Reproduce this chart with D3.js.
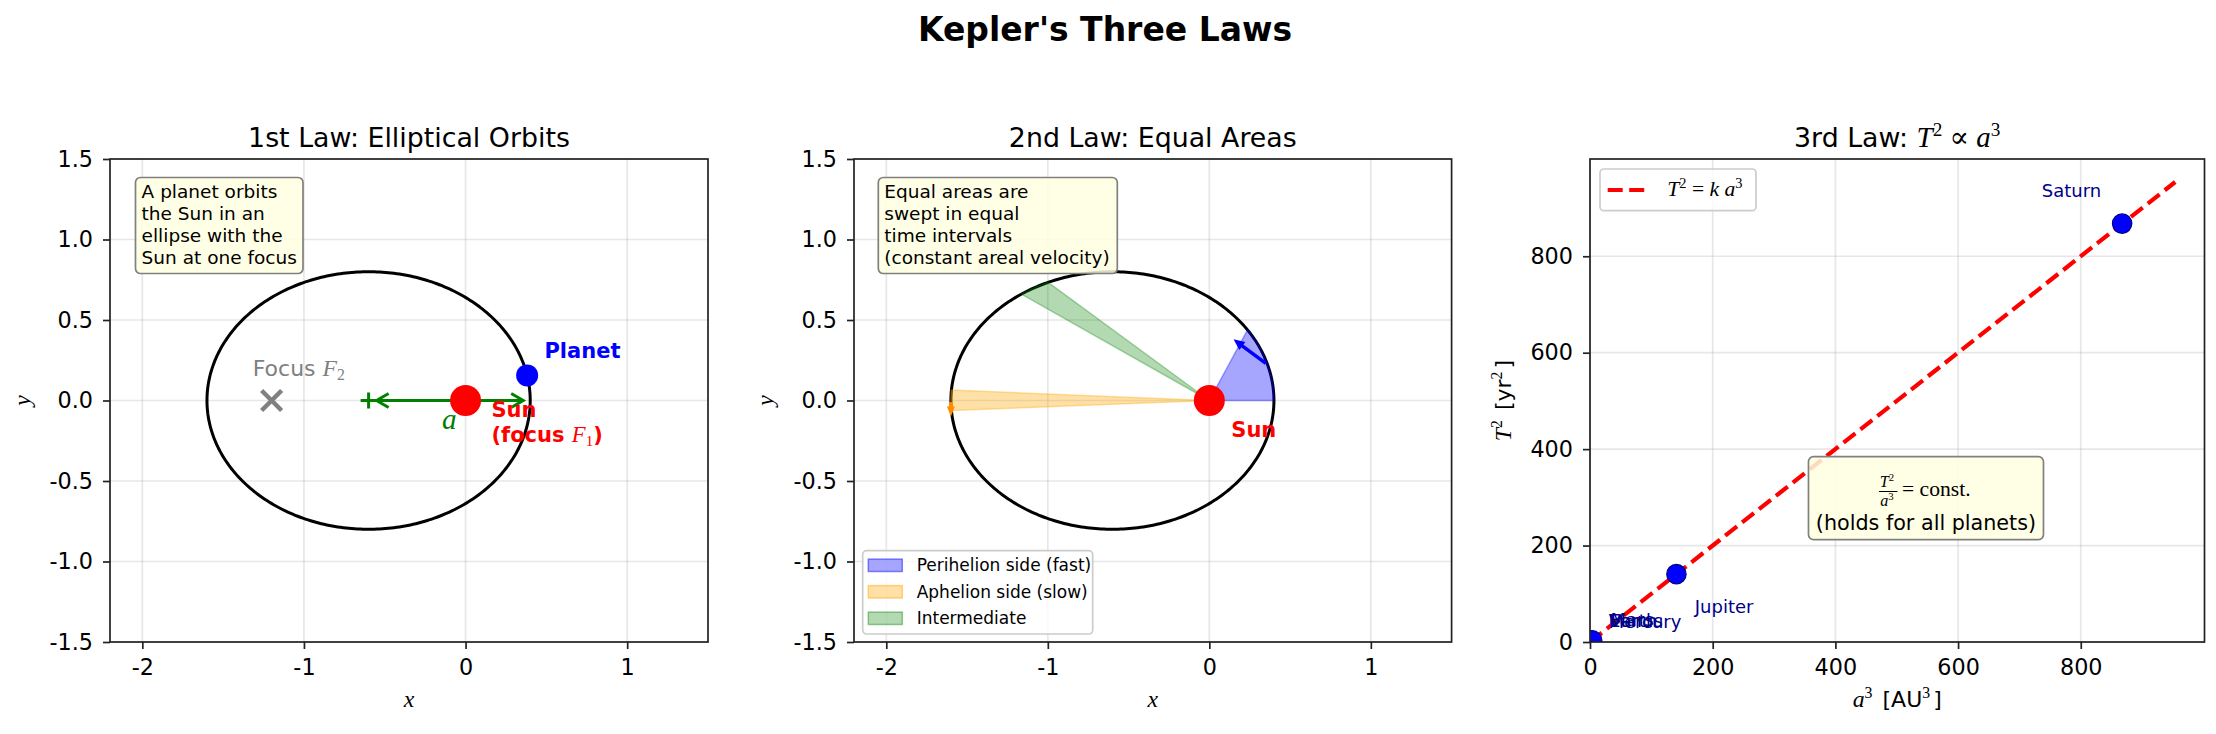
<!DOCTYPE html>
<html>
<head>
<meta charset="utf-8">
<script src="https://cdn.jsdelivr.net/npm/d3@7"></script>
<style>body{margin:0;background:#fff}</style>
</head>
<body>
<svg id="fig" width="2216" height="734"></svg>
<script>
// ---------- data ----------
const xTicks12 = [-2, -1, 0, 1];
const yTicks12 = [-1.5, -1.0, -0.5, 0.0, 0.5, 1.0, 1.5];
const xTicks3 = [0, 200, 400, 600, 800];
const yTicks3 = [0, 200, 400, 600, 800];

// orbit used in panels 1 and 2
const semiMajor = 1.0;
const ecc = 0.6;
const orbitCenter = [-0.6, 0];
const sunXY = [0, 0];
const focus2XY = [-1.2, 0];
const planetXY = [0.381, 0.156];

// swept sectors (eccentric anomaly, rad)
const sectorNames = ["Perihelion side (fast)", "Aphelion side (slow)", "Intermediate"];
const sectorE0 = [0.0, 3.06, 1.98];
const sectorE1 = [0.58, 3.22, 2.17];

// velocity arrows (perihelion, aphelion)
const velFrom = [[0.35, 0.23], [-1.6, -0.01]];
const velTo = [[0.15, 0.38], [-1.6, -0.10]];

// planets for the 3rd law
const planetNames = ["Mercury", "Venus", "Earth", "Mars", "Jupiter", "Saturn"];
const planetA = [0.387, 0.723, 1.000, 1.524, 5.203, 9.537];   // AU
const planetT = [0.241, 0.615, 1.000, 1.881, 11.862, 29.457]; // yr
const fitA3 = [0, 954];
const fitT2 = [0, 954];

// ---------- styles / layout ----------
const SANS = "'DejaVu Sans', sans-serif";
const SERIF = "'Liberation Serif', 'DejaVu Serif', serif";
const MATH_SCALE = 1.08;
const sectorColors = ["#0000ff", "#ffa500", "#008000"];
const sectorAlpha = [0.35, 0.35, 0.3];
const velColors = ["#0000ff", "#ff8c00"];
const labelOffset = { Mercury: [30, 30], Venus: [30, 30], Earth: [30, 30], Mars: [30, 30], Jupiter: [30, -80], Saturn: [-131, 55] };

const svg = d3.select("#fig");
const box1 = {l: 110, r: 708, t: 159, b: 642};
const box2 = {l: 854, r: 1451.6, t: 159, b: 642};
const box3 = {l: 1590, r: 2204.5, t: 159, b: 642};

function rich(sel, x, y, parts, o) {
  const size = o.size;
  const t = sel.append("text").attr("x", x).attr("y", y)
    .attr("font-size", size).attr("fill", o.fill || "#000")
    .attr("text-anchor", o.anchor || "start")
    .attr("font-family", SANS)
    .attr("font-weight", o.weight || "normal");
  if (o.transform) t.attr("transform", o.transform);
  let cur = 0, prevSup = false;
  parts.forEach(p => {
    const s = typeof p === "string" ? {t: p} : p;
    const off = s.sup ? -0.4 * size : s.sub ? 0.2 * size : 0;
    const ts = t.append("tspan").attr("dy", off - cur).text(s.t);
    if (prevSup && o.gap) ts.attr("dx", o.gap);
    cur = off;
    prevSup = !!(s.sup || s.sub);
    if (s.m) ts.attr("font-family", SERIF).attr("font-style", s.up ? "normal" : "italic")
      .attr("font-weight", "normal").attr("font-size", size * MATH_SCALE);
    if (s.sup || s.sub) ts.attr("font-size", size * 0.72).attr("font-family", SERIF).attr("font-style", "normal").attr("font-weight", "normal");
  });
  return t;
}

function axes(box, xDom, yDom, xT, yT, fx, fy, id) {
  const x = d3.scaleLinear().domain(xDom).range([box.l, box.r]);
  const y = d3.scaleLinear().domain(yDom).range([box.b, box.t]);
  const g = svg.append("g");
  g.append("defs").append("clipPath").attr("id", id).append("rect")
    .attr("x", box.l).attr("y", box.t).attr("width", box.r - box.l).attr("height", box.b - box.t);
  const grid = g.append("g").attr("stroke", "#b0b0b0").attr("stroke-opacity", 0.3).attr("stroke-width", 1.7);
  grid.selectAll(".gx").data(xT).join("line")
    .attr("x1", d => x(d)).attr("x2", d => x(d)).attr("y1", box.t).attr("y2", box.b);
  grid.selectAll(".gy").data(yT).join("line")
    .attr("y1", d => y(d)).attr("y2", d => y(d)).attr("x1", box.l).attr("x2", box.r);
  const ax = g.append("g").attr("transform", `translate(0,${box.b})`)
    .call(d3.axisBottom(x).tickValues(xT).tickFormat(fx).tickSize(7).tickPadding(10));
  const ay = g.append("g").attr("transform", `translate(${box.l},0)`)
    .call(d3.axisLeft(y).tickValues(yT).tickFormat(fy).tickSize(7).tickPadding(10));
  [ax, ay].forEach(a => {
    a.select(".domain").remove();
    a.selectAll("line").attr("stroke", "#222").attr("stroke-width", 1.7);
    a.selectAll("text").attr("font-family", SANS).attr("font-size", 22.3).attr("fill", "#000");
  });
  const plot = g.append("g").attr("clip-path", `url(#${id})`);
  const top = g.append("g");
  const frame = () => g.append("rect").attr("x", box.l).attr("y", box.t)
    .attr("width", box.r - box.l).attr("height", box.b - box.t)
    .attr("fill", "none").attr("stroke", "#222").attr("stroke-width", 1.7);
  return {x, y, g, plot, top, frame};
}

function arrow(g, x0, y0, x1, y1, color, w, headL, headW) {
  const dx = x1 - x0, dy = y1 - y0, L = Math.hypot(dx, dy), ux = dx / L, uy = dy / L;
  const bx = x1 - ux * headL, by = y1 - uy * headL;
  g.append("line").attr("x1", x0).attr("y1", y0).attr("x2", bx + ux * 1).attr("y2", by + uy * 1)
    .attr("stroke", color).attr("stroke-width", w);
  g.append("path")
    .attr("d", `M${x1},${y1}L${bx - uy * headW / 2},${by + ux * headW / 2}L${bx + uy * headW / 2},${by - ux * headW / 2}Z`)
    .attr("fill", color);
}

function noteBox(g, x, y, w, h, lines, tx) {
  g.append("rect").attr("x", x).attr("y", y).attr("width", w).attr("height", h).attr("rx", 5)
    .attr("fill", "#ffffe0").attr("fill-opacity", 0.85).attr("stroke", "#808080").attr("stroke-width", 1.7);
  lines.forEach((s, i) => {
    g.append("text").attr("x", tx).attr("y", y + 20.5 + i * 22)
      .attr("font-family", SANS).attr("font-size", 18.5).attr("fill", "#000").text(s);
  });
}

const bMinor = semiMajor * Math.sqrt(1 - ecc * ecc);
function orbitPt(E) {
  return [orbitCenter[0] + semiMajor * Math.cos(E), orbitCenter[1] + bMinor * Math.sin(E)];
}
const orbitPts = d3.range(0, 361).map(d => orbitPt(d * Math.PI / 180));

function panelTitle(box, parts) {
  rich(svg, (box.l + box.r) / 2, 146.5, parts, {size: 26.8, anchor: "middle"});
}

// ---------- suptitle ----------
svg.append("text").attr("x", 1105).attr("y", 41).attr("text-anchor", "middle")
  .attr("font-family", SANS).attr("font-weight", "bold").attr("font-size", 33)
  .text("Kepler's Three Laws");

// ---------- panel 1 ----------
const fmtX = d => String(d);
const fmtY = d => d.toFixed(1);
const p1 = axes(box1, [-2.2, 1.5], [-1.5, 1.5], xTicks12, yTicks12, fmtX, fmtY, "clip1");
{
  const {x, y, plot} = p1;
  const line = d3.line().x(d => x(d[0])).y(d => y(d[1]));
  plot.append("path").attr("d", line(orbitPts)).attr("fill", "none").attr("stroke", "#000").attr("stroke-width", 3);
  // focus F2
  const fx = x(focus2XY[0]), fy = y(focus2XY[1]);
  plot.append("path").attr("d", `M${fx - 10},${fy - 10}L${fx + 10},${fy + 10}M${fx - 10},${fy + 10}L${fx + 10},${fy - 10}`)
    .attr("stroke", "#808080").attr("stroke-width", 4.5);
  rich(plot, x(-1.317), y(0.155), ["Focus ", {t: "F", m: true}, {t: "2", sub: true}], {size: 22, fill: "#808080"});
  // semi-major axis arrow
  const cx = x(orbitCenter[0]), ax1 = x(orbitCenter[0] + semiMajor), cy = y(0);
  const l0 = cx + 8, l1 = ax1 - 7;
  plot.append("line").attr("x1", l0).attr("x2", l1).attr("y1", cy).attr("y2", cy).attr("stroke", "#008000").attr("stroke-width", 3);
  plot.append("path").attr("d", `M${l0 + 12},${cy - 7}L${l0},${cy}L${l0 + 12},${cy + 7}M${l1 - 12},${cy - 7}L${l1},${cy}L${l1 - 12},${cy + 7}`)
    .attr("fill", "none").attr("stroke", "#008000").attr("stroke-width", 3);
  plot.append("path").attr("d", `M${cx - 8},${cy}L${cx + 8},${cy}M${cx},${cy - 8}L${cx},${cy + 8}`)
    .attr("stroke", "#008000").attr("stroke-width", 3);
  rich(plot, x(-0.1), y(-0.176), [{t: "a", m: true}], {size: 27, fill: "#008000", anchor: "middle"});
  // sun and planet
  plot.append("circle").attr("cx", x(sunXY[0])).attr("cy", y(sunXY[1])).attr("r", 15.5).attr("fill", "#ff0000");
  plot.append("circle").attr("cx", x(planetXY[0])).attr("cy", y(planetXY[1])).attr("r", 11).attr("fill", "#0000ff");
  rich(plot, x(0.488), y(0.263), ["Planet"], {size: 21, fill: "#0000ff", weight: "bold"});
  rich(plot, x(0.16), y(-0.1), ["Sun"], {size: 21, fill: "#ff0000", weight: "bold"});
  rich(plot, x(0.16), y(-0.255), ["(focus ", {t: "F", m: true}, {t: "1", sub: true}, ")"], {size: 21, fill: "#ff0000", weight: "bold"});
  noteBox(p1.top, 135.5, 177.5, 167.5, 96, ["A planet orbits", "the Sun in an", "ellipse with the", "Sun at one focus"], 141.6);
  p1.frame();
  panelTitle(box1, ["1st Law: Elliptical Orbits"]);
  rich(svg, (box1.l + box1.r) / 2, 707, [{t: "x", m: true}], {size: 22, anchor: "middle"});
  rich(svg, 0, 0, [{t: "y", m: true}], {size: 22, anchor: "middle", transform: "translate(30,400.5) rotate(-90)"});
}

// ---------- panel 2 ----------
const p2 = axes(box2, [-2.2, 1.5], [-1.5, 1.5], xTicks12, yTicks12, fmtX, fmtY, "clip2");
{
  const {x, y, plot} = p2;
  const line = d3.line().x(d => x(d[0])).y(d => y(d[1]));
  plot.append("path").attr("d", line(orbitPts)).attr("fill", "none").attr("stroke", "#000").attr("stroke-width", 3);
  sectorNames.forEach((nm, i) => {
    const arc = d3.range(0, 41).map(k => orbitPt(sectorE0[i] + (sectorE1[i] - sectorE0[i]) * k / 40));
    plot.append("path").attr("d", line([sunXY].concat(arc)) + "Z")
      .attr("fill", sectorColors[i]).attr("fill-opacity", sectorAlpha[i])
      .attr("stroke", sectorColors[i]).attr("stroke-opacity", sectorAlpha[i]).attr("stroke-width", 1.5);
  });
  arrow(plot, x(velFrom[0][0]), y(velFrom[0][1]), x(velTo[0][0]), y(velTo[0][1]), velColors[0], 3.5, 11, 10);
  arrow(plot, x(velFrom[1][0]), y(velFrom[1][1]), x(velTo[1][0]), y(velTo[1][1]), velColors[1], 4, 10, 8);
  plot.append("circle").attr("cx", x(sunXY[0])).attr("cy", y(sunXY[1])).attr("r", 15.5).attr("fill", "#ff0000");
  rich(plot, x(0.136), y(-0.225), ["Sun"], {size: 21, fill: "#ff0000", weight: "bold"});
  noteBox(p2.top, 878.3, 177.5, 239, 96, ["Equal areas are", "swept in equal", "time intervals", "(constant areal velocity)"], 884.3);
  // legend
  const lg = p2.top.append("g");
  lg.append("rect").attr("x", 862.7).attr("y", 550.7).attr("width", 230).attr("height", 83.3).attr("rx", 4)
    .attr("fill", "#fff").attr("fill-opacity", 0.8).attr("stroke", "#cccccc").attr("stroke-width", 1.7);
  sectorNames.forEach((nm, i) => {
    const cy = 565.3 + i * 26.5;
    lg.append("rect").attr("x", 868.3).attr("y", cy - 6.2).attr("width", 34).attr("height", 12.4)
      .attr("fill", sectorColors[i]).attr("fill-opacity", sectorAlpha[i])
      .attr("stroke", sectorColors[i]).attr("stroke-opacity", sectorAlpha[i] + 0.1).attr("stroke-width", 1.5);
    lg.append("text").attr("x", 916.7).attr("y", cy + 6).attr("font-family", SANS).attr("font-size", 17)
      .attr("fill", "#000").text(nm);
  });
  p2.frame();
  panelTitle(box2, ["2nd Law: Equal Areas"]);
  rich(svg, (box2.l + box2.r) / 2, 707, [{t: "x", m: true}], {size: 22, anchor: "middle"});
  rich(svg, 0, 0, [{t: "y", m: true}], {size: 22, anchor: "middle", transform: "translate(773,400.5) rotate(-90)"});
}

// ---------- panel 3 ----------
const p3 = axes(box3, [0, 1001.7], [0, 1001.7], xTicks3, yTicks3, fmtX, fmtX, "clip3");
{
  const {x, y, plot, top} = p3;
  const fit = fitA3.map((a, i) => [a, fitT2[i]]);
  plot.append("path").attr("d", d3.line().x(d => x(d[0])).y(d => y(d[1]))(fit))
    .attr("fill", "none").attr("stroke", "#ff0000").attr("stroke-width", 4.2).attr("stroke-dasharray", "15,6.5");
  const pts = planetNames.map((n, i) => ({n, a3: Math.pow(planetA[i], 3), t2: Math.pow(planetT[i], 2)}));
  plot.selectAll("circle.pl").data(pts).join("circle")
    .attr("cx", d => x(d.a3)).attr("cy", d => y(d.t2)).attr("r", 9.7)
    .attr("fill", "#0000ff").attr("stroke", "#00008b").attr("stroke-width", 1.2);
  plot.selectAll("text.pl").data(pts).join("text")
    .attr("x", d => x(d.a3 + labelOffset[d.n][0])).attr("y", d => y(d.t2 + labelOffset[d.n][1]))
    .attr("font-family", SANS).attr("font-size", 18).attr("fill", "#00008b").text(d => d.n);
  // legend
  top.append("rect").attr("x", 1600).attr("y", 169).attr("width", 156).attr("height", 41.7).attr("rx", 4)
    .attr("fill", "#fff").attr("fill-opacity", 0.8).attr("stroke", "#cccccc").attr("stroke-width", 1.7);
  top.append("line").attr("x1", 1607.7).attr("x2", 1645).attr("y1", 190).attr("y2", 190)
    .attr("stroke", "#ff0000").attr("stroke-width", 4.2).attr("stroke-dasharray", "15,6.5");
  rich(top, 1667.3, 196, [{t: "T", m: true}, {t: "2", sup: true}, {t: " = ", m: true, up: true}, {t: "k", m: true}, {t: " a", m: true}, {t: "3", sup: true}], {size: 20});
  // const box at axes fraction (0.55, 0.3)
  const bcx = box3.l + 0.55 * (box3.r - box3.l) - 2, bcy = box3.b - 0.3 * (box3.b - box3.t) + 1;
  top.append("rect").attr("x", bcx - 117.5).attr("y", bcy - 41.5).attr("width", 235).attr("height", 83).attr("rx", 5)
    .attr("fill", "#ffffe0").attr("fill-opacity", 0.85).attr("stroke", "#808080").attr("stroke-width", 1.7);
  rich(top, bcx - 39, bcy - 11, [{t: "T", m: true}, {t: "2", sup: true}], {size: 15, anchor: "middle"});
  top.append("line").attr("x1", bcx - 47).attr("x2", bcx - 28.5).attr("y1", bcy - 6.6).attr("y2", bcy - 6.6)
    .attr("stroke", "#000").attr("stroke-width", 1);
  rich(top, bcx - 39, bcy + 8, [{t: "a", m: true}, {t: "3", sup: true}], {size: 15, anchor: "middle"});
  rich(top, bcx - 24, bcy - 2.6, [{t: "= const.", m: true, up: true}], {size: 20});
  top.append("text").attr("x", bcx).attr("y", bcy + 31.7).attr("text-anchor", "middle")
    .attr("font-family", SANS).attr("font-size", 20.7).attr("fill", "#000").text("(holds for all planets)");
  p3.frame();
  panelTitle(box3, ["3rd Law: ", {t: "T", m: true}, {t: "2", sup: true}, {t: " \u221d ", m: true, up: true}, {t: "a", m: true}, {t: "3", sup: true}]);
  rich(svg, (box3.l + box3.r) / 2, 707, [{t: "a", m: true}, {t: "3", sup: true}, " [AU", {t: "3", sup: true}, "]"], {size: 22, anchor: "middle", gap: 3});
  rich(svg, 0, 0, [{t: "T", m: true}, {t: "2", sup: true}, " [yr", {t: "2", sup: true}, "]"], {size: 22, anchor: "middle", gap: 3, transform: "translate(1511,400.5) rotate(-90)"});
}
</script>
</body>
</html>
